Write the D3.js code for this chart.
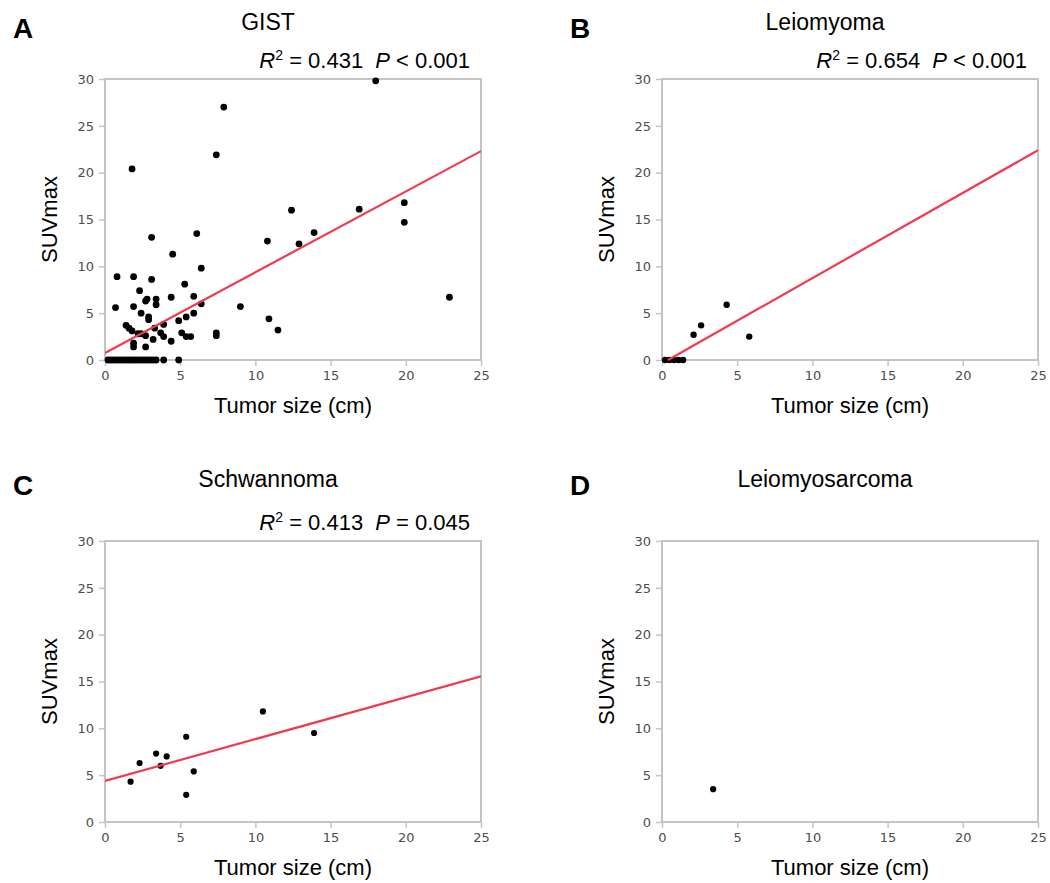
<!DOCTYPE html>
<html>
<head>
<meta charset="utf-8">
<script src="https://cdn.jsdelivr.net/npm/d3@7"></script>
<style>
  html, body { margin: 0; padding: 0; background: #fff; }
  svg { display: block; }
</style>
</head>
<body>
<svg id="chart" width="1050" height="883"></svg>
<script>
// ---------- DATA ----------
const panelLetters = ["A", "B", "C", "D"];
const panelTitles = ["GIST", "Leiomyoma", "Schwannoma", "Leiomyosarcoma"];
const r2Values = ["0.431", "0.654", "0.413", null];
const pSigns = ["<", "<", "=", null];
const pValues = ["0.001", "0.001", "0.045", null];

const xTicks = [0, 5, 10, 15, 20, 25];
const yTicks = [0, 5, 10, 15, 20, 25, 30];

const gistSize = [7.9, 18.0, 7.4, 1.8, 12.4, 16.9, 19.9, 19.9, 6.1, 3.1, 13.9, 10.8, 12.9, 4.5, 6.4,
  0.8, 1.9, 3.1, 5.3, 2.3, 2.7, 2.8, 3.4, 3.4, 4.4, 5.9, 22.9, 0.7, 1.9, 9.0, 6.4, 2.4, 2.9, 2.9,
  5.9, 5.4, 4.9, 10.9, 3.9, 1.4, 1.6, 1.8, 3.3, 2.2, 2.4, 2.7, 3.7, 3.9, 3.2, 5.1, 5.4, 5.7, 7.4,
  7.4, 11.5, 4.4, 1.9, 1.9, 2.7,
  0.2, 0.4, 0.6, 0.8, 1.0, 1.2, 1.4, 1.6, 1.8, 2.0, 2.2, 2.4, 2.6, 2.8, 3.0, 3.2, 3.4, 3.9, 4.9];
const gistSUV = [27.0, 29.8, 21.9, 20.4, 16.0, 16.1, 16.8, 14.7, 13.5, 13.1, 13.6, 12.7, 12.4, 11.3, 9.8,
  8.9, 8.9, 8.6, 8.1, 7.4, 6.3, 6.5, 6.5, 5.9, 6.7, 6.8, 6.7, 5.6, 5.7, 5.7, 6.0, 5.0, 4.6, 4.3,
  5.0, 4.6, 4.2, 4.4, 3.8, 3.7, 3.4, 3.1, 3.4, 2.8, 2.8, 2.6, 2.9, 2.5, 2.2, 2.9, 2.5, 2.5, 2.9,
  2.6, 3.2, 2.0, 1.8, 1.4, 1.4,
  0, 0, 0, 0, 0, 0, 0, 0, 0, 0, 0, 0, 0, 0, 0, 0, 0, 0, 0];

const leioSize = [4.3, 2.6, 2.1, 5.8, 0.2, 0.5, 0.8, 1.1, 1.4];
const leioSUV  = [5.9, 3.7, 2.7, 2.5, 0, 0, 0, 0, 0];

const schwSize = [1.7, 2.3, 3.4, 3.7, 4.1, 5.4, 5.9, 5.4, 10.5, 13.9];
const schwSUV  = [4.3, 6.3, 7.3, 6.0, 7.0, 9.1, 5.4, 2.9, 11.8, 9.5];

const lmsSize = [3.4];
const lmsSUV  = [3.5];

const fitIntercepts = [0.75, -0.36, 4.38, null];
const fitSlopes = [0.862, 0.91, 0.447, null];
const fitStart = [0, 0.4, 0, null];
const fitEnd = [25, 25, 25, null];

const sizeSeries = [gistSize, leioSize, schwSize, lmsSize];
const suvSeries = [gistSUV, leioSUV, schwSUV, lmsSUV];

// ---------- LAYOUT ----------
const plotLeft = [105, 662, 105, 662];
const plotTop = [79, 79, 541, 541];
const plotW = 376, plotH = 281;
const rowTextOffset = [0, 0, 457, 457];
const dotR = [3.4, 3.2, 3.1, 3.1];

const svg = d3.select("#chart");
const sans = "'Liberation Sans', Arial, sans-serif";
const tickFont = "'DejaVu Sans', Verdana, sans-serif";
const frameColor = "#c4c4c4";
const lineColor = "#f03a50";

panelLetters.forEach((letter, i) => {
  const pL = plotLeft[i], pT = plotTop[i];
  const g = svg.append("g");
  const x = d3.scaleLinear().domain([0, 25]).range([pL, pL + plotW]);
  const y = d3.scaleLinear().domain([0, 30]).range([pT + plotH, pT]);

  // Axes (ticks outside)
  const yAxis = g.append("g").attr("transform", `translate(${pL},0)`)
    .call(d3.axisLeft(y).tickValues(yTicks).tickSize(6).tickPadding(5));
  const xAxis = g.append("g").attr("transform", `translate(0,${pT + plotH})`)
    .call(d3.axisBottom(x).tickValues(xTicks).tickSize(6).tickPadding(5));
  [yAxis, xAxis].forEach(ax => {
    ax.select(".domain").remove();
    ax.selectAll(".tick line").attr("stroke", frameColor).attr("stroke-width", 1.5);
    ax.selectAll(".tick text").attr("fill", "#4d4d4d")
      .style("font-family", tickFont).style("font-size", "13px");
  });

  // Frame
  g.append("rect")
    .attr("x", pL).attr("y", pT).attr("width", plotW).attr("height", plotH)
    .attr("fill", "none").attr("stroke", frameColor).attr("stroke-width", 2);

  // Clip
  const clipId = "clip" + i;
  svg.append("clipPath").attr("id", clipId)
    .append("rect").attr("x", pL).attr("y", pT - 4).attr("width", plotW).attr("height", plotH + 8);

  // Points
  const pts = sizeSeries[i].map((s, k) => ({ s, v: suvSeries[i][k] }));
  g.append("g").selectAll("circle").data(pts).enter().append("circle")
    .attr("cx", d => x(d.s)).attr("cy", d => y(d.v)).attr("r", dotR[i])
    .attr("fill", "#000");

  // Regression line
  if (fitSlopes[i] !== null) {
    const f = xv => fitIntercepts[i] + fitSlopes[i] * xv;
    const lineData = [fitStart[i], fitEnd[i]].map(xv => [xv, Math.max(0, f(xv))]);
    g.append("path")
      .datum(lineData)
      .attr("clip-path", `url(#${clipId})`)
      .attr("d", d3.line().x(d => x(d[0])).y(d => y(d[1])))
      .attr("fill", "none").attr("stroke", lineColor).attr("stroke-width", 2.2);
  }

  const rowY = rowTextOffset[i];

  // Panel letter
  g.append("text").attr("x", pL - 92).attr("y", rowY + 38)
    .style("font-family", sans).style("font-weight", "bold").style("font-size", "28px")
    .attr("fill", "#000").text(letter);

  // Title
  g.append("text").attr("x", pL + 163).attr("y", rowY + 30)
    .attr("text-anchor", "middle")
    .style("font-family", sans).style("font-size", "23px").attr("fill", "#000")
    .text(panelTitles[i]);

  // R2 / P annotation
  if (r2Values[i] !== null) {
    const t = g.append("text").attr("x", pL + plotW - 11).attr("y", pT - 11)
      .attr("text-anchor", "end")
      .style("font-family", sans).style("font-size", "22px").attr("fill", "#000");
    t.append("tspan").style("font-style", "italic").text("R");
    t.append("tspan").attr("dy", -8).style("font-size", "14px").text("2");
    t.append("tspan").attr("dy", 8).text(" = " + r2Values[i]);
    t.append("tspan").attr("dx", 12).style("font-style", "italic").text("P");
    t.append("tspan").text(" " + pSigns[i] + " " + pValues[i]);
  }

  // Axis labels
  g.append("text")
    .attr("transform", `translate(${pL - 48},${pT + plotH / 2}) rotate(-90)`)
    .attr("text-anchor", "middle")
    .style("font-family", sans).style("font-size", "22px").attr("fill", "#000")
    .text("SUVmax");
  g.append("text").attr("x", pL + plotW / 2).attr("y", pT + plotH + 53)
    .attr("text-anchor", "middle")
    .style("font-family", sans).style("font-size", "22px").attr("fill", "#000")
    .text("Tumor size (cm)");
});
</script>
</body>
</html>
